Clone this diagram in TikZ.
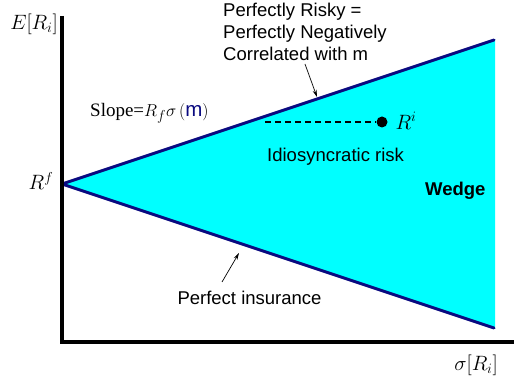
\documentclass[tikz,border=0pt]{standalone}
\usepackage{fontspec}
\setmainfont{Liberation Sans}
\newfontfamily\tms{Liberation Serif}
\usetikzlibrary{arrows.meta}
\definecolor{wedgecyan}{RGB}{0,255,255}
\definecolor{navyline}{RGB}{10,10,128}
\begin{document}
\begin{tikzpicture}[x=1pt,y=-1pt,
  lbl/.style={inner sep=0pt,font=\fontsize{18.5}{22}\selectfont},
  mlbl/.style={inner sep=0pt,font=\fontsize{20}{24}\selectfont},
  bound/.style={navyline,line width=3pt,line cap=round},
  axis/.style={black,line width=3.5pt},
  pointer/.style={-{Stealth[length=7pt,width=4pt]},line width=0.7pt}]
\useasboundingbox (0,0) rectangle (515,385);
% wedge
\coordinate (rf) at (62,184);
\coordinate (up) at (494,40);
\coordinate (lo) at (494,328);
\fill[wedgecyan] (rf) -- (495,39) -- (495,329) -- cycle;
\draw[bound] (rf) -- (up);
\draw[bound] (rf) -- (lo);
% axes
\coordinate (ytop) at (62,16);
\coordinate (orig) at (62,342);
\coordinate (xend) at (514,342);
\draw[axis] (ytop) -- (orig) -- (xend);
% axis labels
\node[mlbl] (ylab) at (34,24) {$E\big[R_i\big]$};
\node[mlbl] (xlab) at (476,365) {$\sigma\big[R_i\big]$};
\node[mlbl] (rflab) at (41,181) {$R^f$};
% slope
\node[inner sep=0pt,font=\fontsize{19}{22}\selectfont\tms,anchor=west] (slope) at (90,113)
  {Slope=$R_f\sigma\,\big($\textcolor{navyline}{\fontsize{20.5}{22}\selectfont\rmfamily m}$\big)$};
% top text
\node[lbl,align=left,anchor=west] (risky) at (223,32)
  {Perfectly Risky =\\Perfectly Negatively\\Correlated with m};
\coordinate (a1s) at (305,64);
\coordinate (a1e) at (317,97);
\draw[pointer] (a1s) -- (a1e);
% R^i point
\node[circle,fill=black,inner sep=0pt,minimum size=11pt] (dot) at (382,122) {};
\coordinate (dstart) at (265,122);
\draw[dashed,line width=1.5pt,dash pattern=on 6pt off 4pt] (dstart) -- (dot);
\node[mlbl] (rilab) at (406,121) {$R^i$};
\node[lbl,anchor=west] (idio) at (267,157) {Idiosyncratic risk};
\node[lbl,font=\fontsize{18.5}{22}\selectfont\bfseries,anchor=west] (wedge) at (425,191) {Wedge};
% perfect insurance
\node[lbl] (ins) at (249.5,298) {Perfect insurance};
\coordinate (a2s) at (222,282);
\coordinate (a2e) at (239,253);
\draw[pointer] (a2s) -- (a2e);
\end{tikzpicture}
\end{document}
